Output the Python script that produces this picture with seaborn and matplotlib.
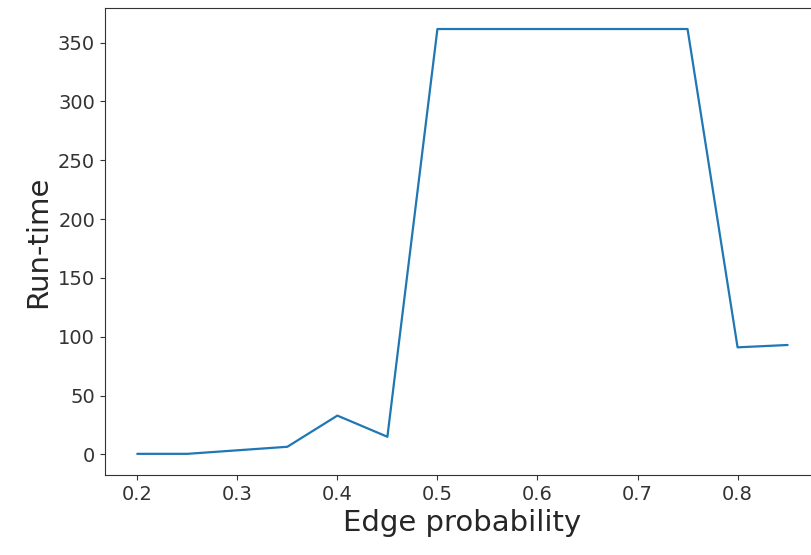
import pandas as pd
import matplotlib
matplotlib.use('Agg')
import matplotlib.pyplot as plt
import seaborn as sns

sns.set_style('ticks')
plt.rcParams['font.family'] = ['DejaVu Sans']

# run-time per edge probability
edge_prob = [0.2, 0.25, 0.3, 0.35, 0.4, 0.45, 0.5, 0.55, 0.6, 0.65, 0.7, 0.75, 0.8, 0.85]
run_time = [0.5, 0.5, 3.5, 6.5, 33, 15, 361.5, 361.5, 361.5, 361.5, 361.5, 361.5, 91, 93]

df = pd.DataFrame({'Edge probability': edge_prob, 'Run-time': run_time})

fig, ax = plt.subplots(figsize=(8.12, 5.55), dpi=100)
sns.lineplot(data=df, x='Edge probability', y='Run-time', color='#1f77b4', linewidth=1.6, ax=ax)
ax.set_xlabel('Edge probability', fontsize=21)
ax.set_ylabel('Run-time', fontsize=21)
ax.set_yticks([0, 50, 100, 150, 200, 250, 300, 350])
ax.tick_params(labelsize=14, colors='#333333')
for s in ax.spines.values():
    s.set_color('#333333')
# the original image is cropped just before the right spine
plt.subplots_adjust(left=0.129, right=1.01, top=0.986, bottom=0.144)
plt.savefig('out.png')
plt.close()
